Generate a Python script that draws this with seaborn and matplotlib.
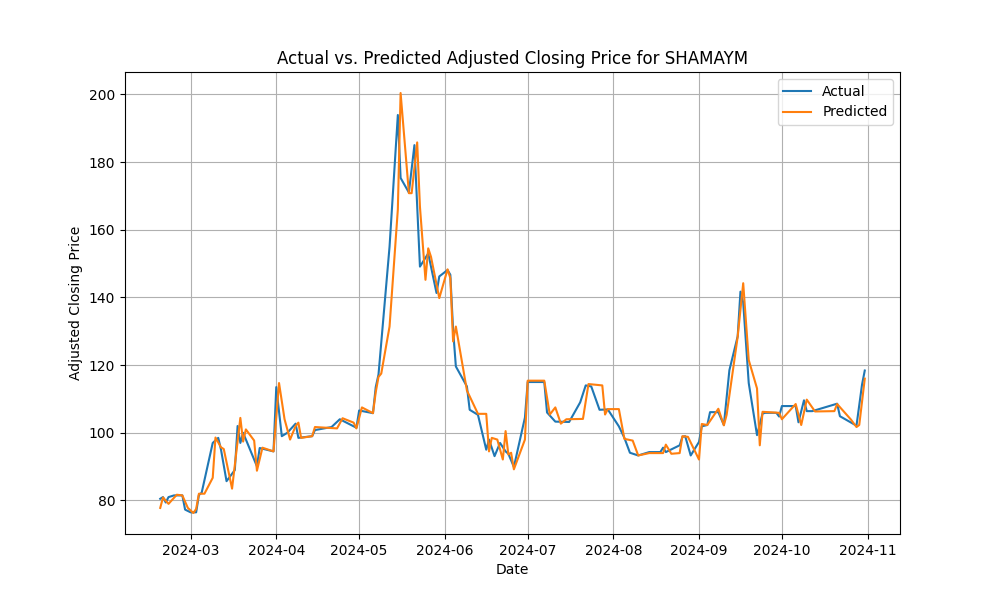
import matplotlib
matplotlib.use("Agg")

import pandas as pd
import seaborn as sns
from matplotlib import pyplot as plt


TICKER = "SHAMAYM"

actual_dates = [
    "2024-02-19", "2024-02-20", "2024-02-21", "2024-02-22", "2024-02-24", "2024-02-27",
    "2024-02-28", "2024-03-01", "2024-03-03", "2024-03-04", "2024-03-05", "2024-03-09",
    "2024-03-11", "2024-03-12", "2024-03-14", "2024-03-17", "2024-03-18", "2024-03-19",
    "2024-03-20", "2024-03-25", "2024-03-26", "2024-03-31", "2024-04-01", "2024-04-03",
    "2024-04-05", "2024-04-08", "2024-04-09", "2024-04-14", "2024-04-15", "2024-04-21",
    "2024-04-24", "2024-04-30", "2024-05-01", "2024-05-06", "2024-05-07", "2024-05-08",
    "2024-05-12", "2024-05-15", "2024-05-16", "2024-05-19", "2024-05-21", "2024-05-23",
    "2024-05-26", "2024-05-29", "2024-05-30", "2024-06-02", "2024-06-03", "2024-06-04",
    "2024-06-05", "2024-06-09", "2024-06-10", "2024-06-13", "2024-06-16", "2024-06-17",
    "2024-06-19", "2024-06-21", "2024-06-23", "2024-06-24", "2024-06-26", "2024-06-30",
    "2024-07-01", "2024-07-07", "2024-07-08", "2024-07-11", "2024-07-16", "2024-07-20",
    "2024-07-22", "2024-07-24", "2024-07-27", "2024-07-30", "2024-08-03", "2024-08-05",
    "2024-08-07", "2024-08-10", "2024-08-14", "2024-08-18", "2024-08-19", "2024-08-20",
    "2024-08-25", "2024-08-26", "2024-08-27", "2024-08-29", "2024-09-01", "2024-09-02",
    "2024-09-04", "2024-09-05", "2024-09-08", "2024-09-10", "2024-09-12", "2024-09-15",
    "2024-09-16", "2024-09-17", "2024-09-19", "2024-09-22", "2024-09-24", "2024-09-25",
    "2024-09-29", "2024-09-30", "2024-10-01", "2024-10-06", "2024-10-07", "2024-10-09",
    "2024-10-10", "2024-10-12", "2024-10-21", "2024-10-22", "2024-10-28", "2024-10-30",
    "2024-10-31",
]
actual_values = [
    80.5, 81.0, 79.4, 81.0, 81.5, 81.5,
    77.3, 76.5, 76.5, 81.6, 82.3, 97.0,
    98.5, 95.0, 85.7, 89.0, 102.0, 97.0,
    100.0, 90.1, 95.5, 94.5, 113.5, 99.0,
    100.0, 102.7, 98.5, 99.0, 100.8, 101.7,
    104.0, 101.5, 106.6, 105.8, 113.5, 117.2,
    155.0, 193.9, 175.3, 171.0, 185.0, 149.1,
    153.0, 141.3, 146.2, 148.1, 146.7, 130.4,
    119.6, 113.7, 106.8, 105.3, 95.0, 98.0,
    93.1, 97.0, 94.5, 93.8, 89.9, 104.5,
    115.0, 115.0, 106.0, 103.3, 103.2, 109.0,
    114.0, 113.7, 106.8, 106.9, 101.9, 98.5,
    94.1, 93.3, 94.3, 94.3, 95.6, 94.3,
    96.3, 98.8, 99.0, 93.3, 97.3, 101.9,
    102.3, 106.1, 106.1, 102.3, 118.5, 128.5,
    141.7, 138.5, 114.7, 99.3, 105.7, 105.9,
    105.9, 104.8, 107.9, 107.9, 103.1, 109.6,
    106.4, 106.4, 108.6, 104.9, 102.1, 114.2,
    118.4,
]

predicted_dates = [
    "2024-02-19", "2024-02-20", "2024-02-22", "2024-02-25", "2024-02-27", "2024-02-29",
    "2024-03-02", "2024-03-03", "2024-03-04", "2024-03-06", "2024-03-09", "2024-03-10",
    "2024-03-12", "2024-03-13", "2024-03-16", "2024-03-19", "2024-03-20", "2024-03-21",
    "2024-03-24", "2024-03-25", "2024-03-27", "2024-03-31", "2024-04-02", "2024-04-04",
    "2024-04-06", "2024-04-08", "2024-04-09", "2024-04-10", "2024-04-14", "2024-04-15",
    "2024-04-23", "2024-04-25", "2024-04-29", "2024-04-30", "2024-05-02", "2024-05-06",
    "2024-05-07", "2024-05-08", "2024-05-09", "2024-05-12", "2024-05-15", "2024-05-16",
    "2024-05-19", "2024-05-20", "2024-05-22", "2024-05-23", "2024-05-25", "2024-05-26",
    "2024-05-27", "2024-05-30", "2024-06-02", "2024-06-03", "2024-06-04", "2024-06-05",
    "2024-06-09", "2024-06-13", "2024-06-16", "2024-06-17", "2024-06-18", "2024-06-20",
    "2024-06-22", "2024-06-23", "2024-06-24", "2024-06-25", "2024-06-26", "2024-06-30",
    "2024-07-01", "2024-07-07", "2024-07-09", "2024-07-11", "2024-07-13", "2024-07-15",
    "2024-07-21", "2024-07-23", "2024-07-28", "2024-07-29", "2024-07-30", "2024-08-03",
    "2024-08-05", "2024-08-08", "2024-08-10", "2024-08-14", "2024-08-19", "2024-08-20",
    "2024-08-22", "2024-08-25", "2024-08-26", "2024-08-28", "2024-09-01", "2024-09-02",
    "2024-09-04", "2024-09-08", "2024-09-10", "2024-09-11", "2024-09-15", "2024-09-17",
    "2024-09-19", "2024-09-22", "2024-09-23", "2024-09-24", "2024-09-30", "2024-10-01",
    "2024-10-06", "2024-10-08", "2024-10-10", "2024-10-13", "2024-10-20", "2024-10-21",
    "2024-10-26", "2024-10-28", "2024-10-29", "2024-10-31",
]
predicted_values = [
    77.8, 80.9, 79.0, 81.7, 81.5, 77.8,
    76.3, 77.5, 82.0, 82.0, 86.7, 98.6,
    95.7, 95.2, 83.5, 104.4, 97.4, 101.0,
    97.7, 88.8, 95.6, 94.5, 114.7, 104.0,
    98.0, 102.0, 103.0, 98.5, 99.0, 101.7,
    101.3, 104.3, 103.0, 101.3, 107.5, 105.8,
    112.0, 116.5, 117.5, 131.4, 166.0, 200.4,
    170.8, 170.8, 185.8, 166.8, 145.2, 154.5,
    152.0, 139.8, 148.3, 145.7, 127.0, 131.4,
    112.5, 105.6, 105.6, 94.5, 98.5, 98.0,
    92.1, 100.5, 93.6, 94.1, 89.2, 98.0,
    115.4, 115.4, 105.4, 107.5, 102.7, 104.0,
    104.1, 114.4, 114.0, 105.4, 107.0, 107.0,
    98.2, 97.7, 93.3, 94.0, 94.0, 96.5,
    93.8, 94.0, 99.0, 98.8, 92.1, 102.6,
    102.3, 107.1, 102.2, 105.3, 128.4, 144.2,
    121.5, 113.1, 96.3, 106.2, 105.9, 104.0,
    108.5, 102.3, 109.8, 106.3, 106.4, 108.5,
    103.9, 101.7, 102.3, 116.0,
]

actual_df = pd.DataFrame({"Date": pd.to_datetime(actual_dates), "Price": actual_values})
predicted_df = pd.DataFrame({"Date": pd.to_datetime(predicted_dates), "Price": predicted_values})

fig, ax = plt.subplots(figsize=(10, 6), dpi=100)
sns.lineplot(data=actual_df, x="Date", y="Price", ax=ax, label="Actual", color="tab:blue", linewidth=1.5)
sns.lineplot(data=predicted_df, x="Date", y="Price", ax=ax, label="Predicted", color="tab:orange", linewidth=1.5)

ax.set_title(f"Actual vs. Predicted Adjusted Closing Price for {TICKER}")
ax.set_xlabel("Date")
ax.set_ylabel("Adjusted Closing Price")
ax.grid(True)
ax.legend(loc="upper right")

fig.savefig("out.png", dpi=100)
